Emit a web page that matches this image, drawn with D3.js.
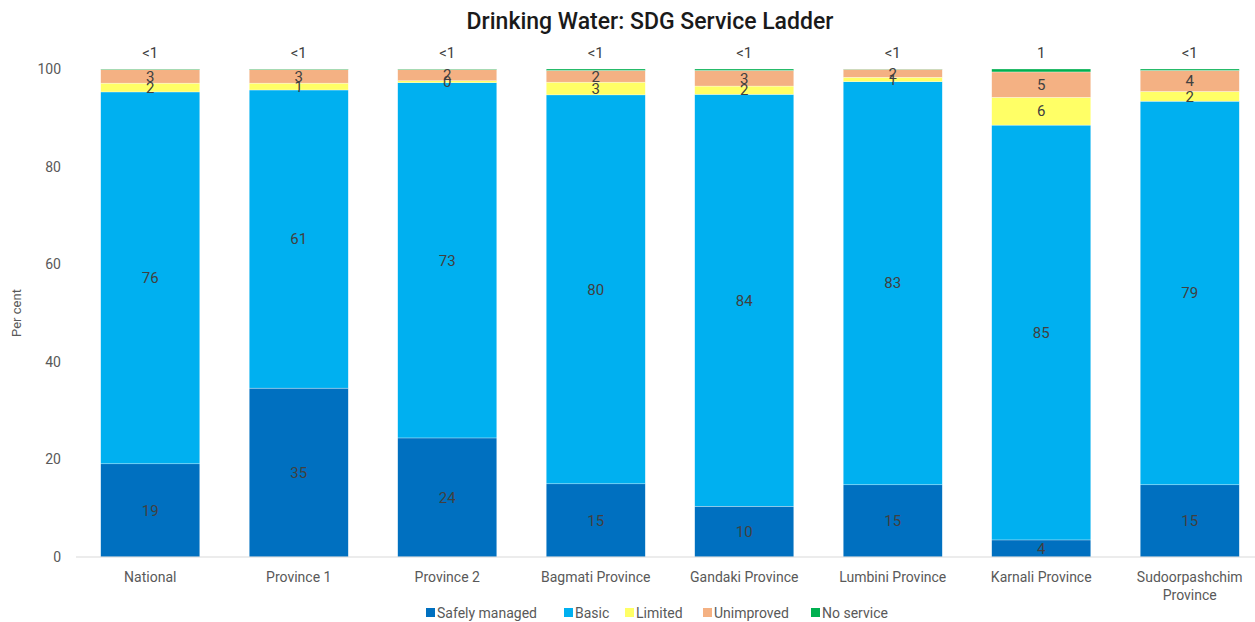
<!DOCTYPE html>
<html>
<head>
<meta charset="utf-8">
<script src="https://cdn.jsdelivr.net/npm/d3@7"></script>
<style>
  body { margin: 0; background: #fff; }
  svg { font-family: Roboto, "Liberation Sans", sans-serif; }
</style>
</head>
<body>
<div id="chart"></div>
<script>
const width = 1255, height = 622;

// data
const regions = ["National", "Province 1", "Province 2", "Bagmati Province", "Gandaki Province",
	"Lumbini Province", "Karnali Province", "Sudoorpashchim Province"];
const safelyManaged = [19.1, 34.6, 24.4, 15.0, 10.4, 14.8, 3.5, 14.8];
const basic = [76.2, 61.1, 72.8, 79.7, 84.4, 82.6, 85.0, 78.6];
const limited = [1.8, 1.4, 0.4, 2.6, 1.7, 0.9, 5.7, 2.0];
const unimproved = [2.8, 2.8, 2.3, 2.4, 3.2, 1.65, 5.2, 4.3];
const noService = [0.1, 0.1, 0.1, 0.3, 0.3, 0.05, 0.6, 0.3];
const yTicks = [0, 20, 40, 60, 80, 100];

const series = [
	{ name: "Safely managed", values: safelyManaged, color: "#0070C0" },
	{ name: "Basic", values: basic, color: "#00B0F0" },
	{ name: "Limited", values: limited, color: "#FFFF66" },
	{ name: "Unimproved", values: unimproved, color: "#F4B183" },
	{ name: "No service", values: noService, color: "#00B050" },
];

const margin = { top: 69, bottom: 65, left: 76, right: -9 };

const svg = d3.select("#chart").append("svg")
	.attr("width", width)
	.attr("height", height);

const x = d3.scaleBand()
	.domain(regions)
	.range([margin.left, width - margin.right])
	.paddingInner(0.333)
	.paddingOuter(0.1665);

const y = d3.scaleLinear()
	.domain([0, 100])
	.range([height - margin.bottom, margin.top]);

// title
svg.append("text")
	.attr("x", 650)
	.attr("y", 29)
	.attr("text-anchor", "middle")
	.attr("font-size", 23)
	.attr("font-weight", 500)
	.attr("fill", "#1a1a1a")
	.text("Drinking Water: SDG Service Ladder");

// y axis title
svg.append("text")
	.attr("transform", `translate(21, ${y(50)}) rotate(-90)`)
	.attr("text-anchor", "middle")
	.attr("font-size", 13)
	.attr("fill", "#595959")
	.text("Per cent");

// y tick labels
svg.append("g").selectAll("text")
	.data(yTicks)
	.join("text")
	.attr("x", 61)
	.attr("y", (d) => y(d))
	.attr("dy", "0.35em")
	.attr("text-anchor", "end")
	.attr("font-size", 14)
	.attr("fill", "#595959")
	.text((d) => d);

// stacked bars
const rows = regions.map((r, i) => {
	const row = { region: r };
	series.forEach((s) => (row[s.name] = s.values[i]));
	return row;
});
const stacked = d3.stack().keys(series.map((s) => s.name))(rows);

const layer = svg.append("g").selectAll("g")
	.data(stacked)
	.join("g")
	.attr("fill", (d, i) => series[i].color);

layer.selectAll("rect")
	.data((d) => d.map((p) => ({ p, key: d.key })))
	.join("rect")
	.attr("x", (d) => x(d.p.data.region))
	.attr("width", x.bandwidth())
	.attr("y", (d) => y(d.p[1]))
	.attr("height", (d) => y(d.p[0]) - y(d.p[1]))
	.attr("stroke", "#ffffff")
	.attr("stroke-opacity", 0.6)
	.attr("stroke-width", 0.5);

// axis line
svg.append("line")
	.attr("x1", margin.left)
	.attr("x2", width)
	.attr("y1", y(0))
	.attr("y2", y(0))
	.attr("stroke", "#d9d9d9")
	.attr("stroke-width", 1);

// data labels
const labels = svg.append("g")
	.attr("font-size", 15)
	.attr("fill", "#404040")
	.attr("text-anchor", "middle");

stacked.forEach((layerData, si) => {
	layerData.forEach((p) => {
		const v = p[1] - p[0];
		const isLast = si === stacked.length - 1;
		const txt = isLast && v < 0.5 ? "<1" : String(Math.round(v));
		const cx = x(p.data.region) + x.bandwidth() / 2;
		const cy = isLast ? y(p[1]) - 16 : (y(p[0]) + y(p[1])) / 2;
		labels.append("text")
			.attr("x", cx)
			.attr("y", cy)
			.attr("dy", "0.35em")
			.text(txt);
	});
});

// x labels
const xl = svg.append("g")
	.attr("font-size", 14)
	.attr("fill", "#595959")
	.attr("text-anchor", "middle");

regions.forEach((r) => {
	const t = xl.append("text")
		.attr("x", x(r) + x.bandwidth() / 2)
		.attr("y", 582);
	const lines = r === "Sudoorpashchim Province" ? ["Sudoorpashchim", "Province"] : [r];
	lines.forEach((ln, i) => {
		t.append("tspan")
			.attr("x", x(r) + x.bandwidth() / 2)
			.attr("dy", i === 0 ? 0 : 18)
			.text(ln);
	});
});

// legend
const legendX = [426, 564, 625, 703, 811];
const legend = svg.append("g");
series.forEach((s, i) => {
	const g = legend.append("g").attr("transform", `translate(${legendX[i]}, 613)`);
	g.append("rect")
		.attr("x", 0)
		.attr("y", -5)
		.attr("width", 9)
		.attr("height", 9)
		.attr("fill", s.color);
	g.append("text")
		.attr("x", 11)
		.attr("y", 0)
		.attr("dy", "0.35em")
		.attr("font-size", 14)
		.attr("fill", "#595959")
		.text(s.name);
});
</script>
</body>
</html>
